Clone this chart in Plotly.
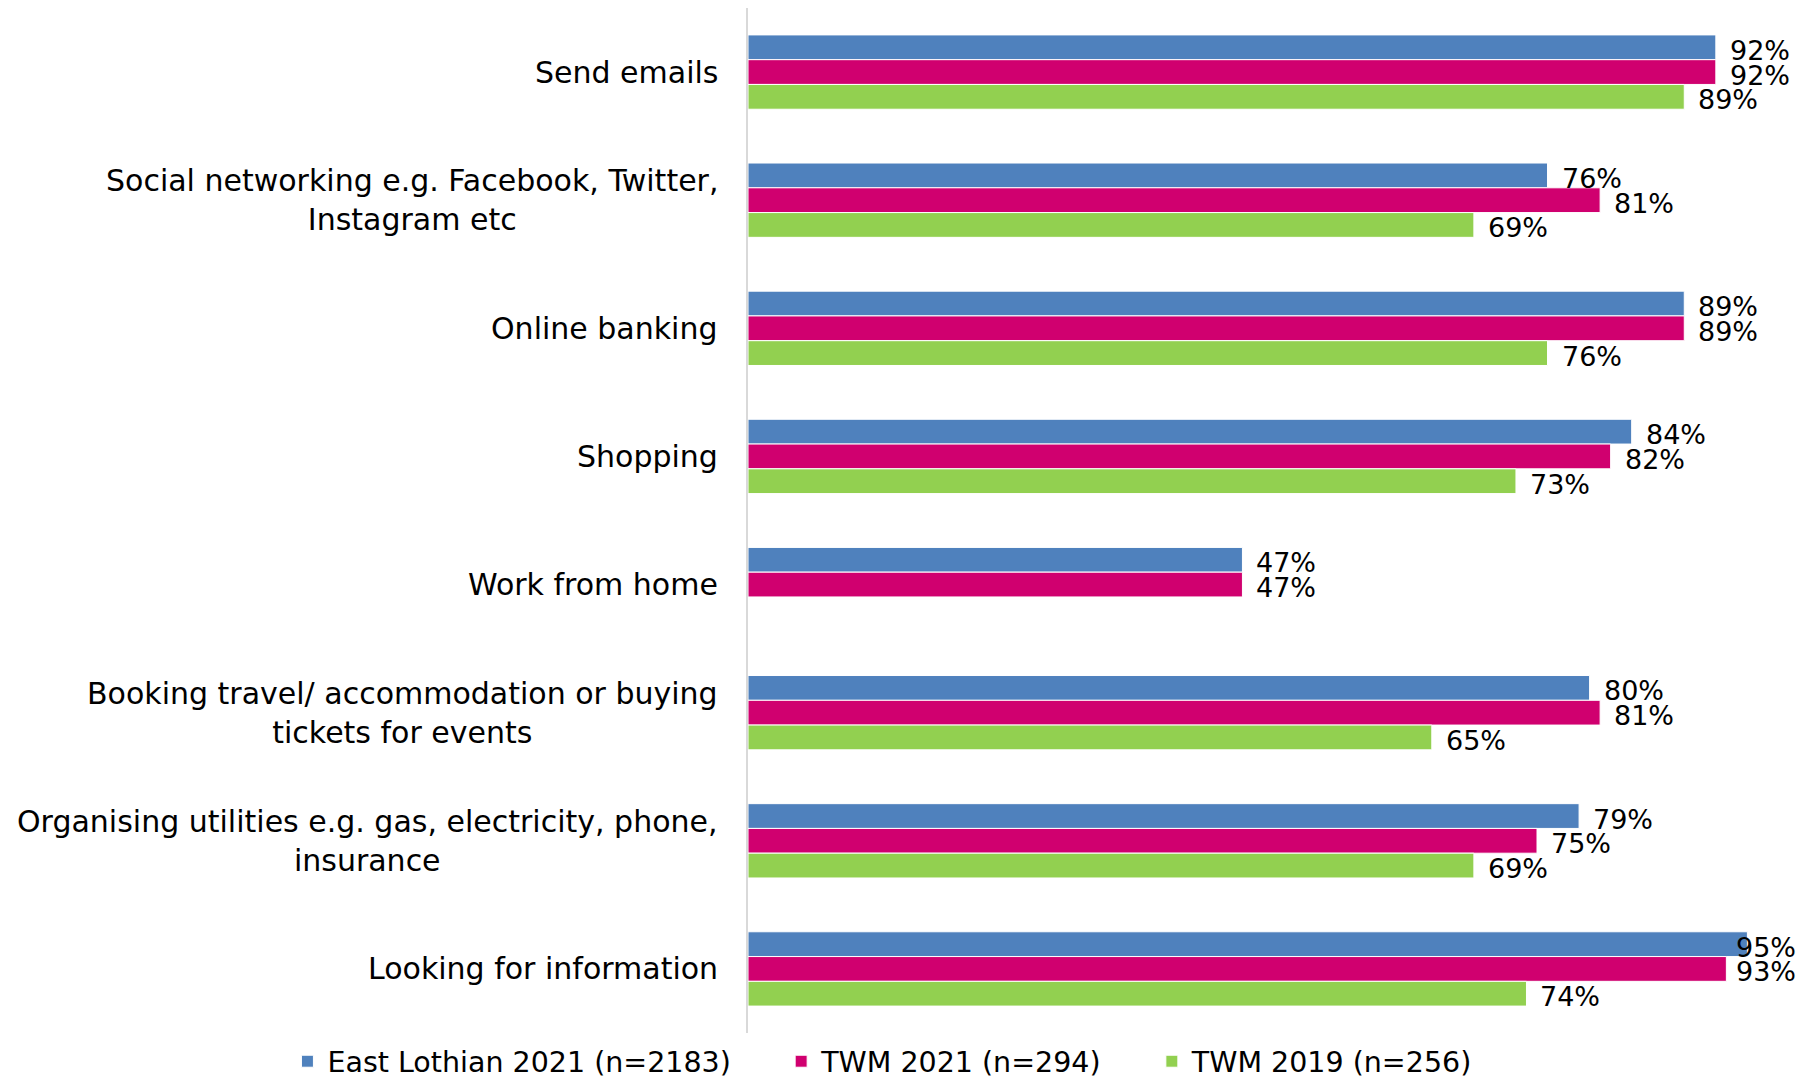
import plotly.graph_objects as go

categories = [
    "Send emails",
    "Social networking e.g. Facebook, Twitter,<br>Instagram etc",
    "Online banking",
    "Shopping",
    "Work from home",
    "Booking travel/ accommodation or buying<br>tickets for events",
    "Organising utilities e.g. gas, electricity, phone,<br>insurance",
    "Looking for information",
]
series_names = ["East Lothian 2021 (n=2183)", "TWM 2021 (n=294)", "TWM 2019 (n=256)"]
east_lothian_2021 = [92, 76, 89, 84, 47, 80, 79, 95]
twm_2021 = [92, 81, 89, 82, 47, 81, 75, 93]
twm_2019 = [89, 69, 76, 73, None, 65, 69, 74]
colors = ["#4F81BD", "#D0006F", "#92D050"]

FONT = "DejaVu Sans"
BARGAP = 0.42
NS = 3
ypos = list(range(len(categories)))

fig = go.Figure()
all_series = [east_lothian_2021, twm_2021, twm_2019]
for j, (name, vals, col) in enumerate(zip(series_names, all_series, colors)):
    label = name + ("\u00a0" * 5 if j < NS - 1 else "")
    fig.add_trace(go.Bar(
        y=ypos, x=vals, name=label, orientation="h",
        marker=dict(color=col, line=dict(color="white", width=1)),
        hoverinfo="x+name",
    ))
    # data labels, placed like Excel's "outside end" (clamped inside chart area)
    width = (1 - BARGAP) / NS
    off = (j - (NS - 1) / 2) * width
    for i, v in enumerate(vals):
        if v is None:
            continue
        clamp = v + 7.2 > 99.7
        fig.add_annotation(
            x=100 if clamp else v, y=i + off, xref="x", yref="y",
            text=f"{v}%", showarrow=False,
            xanchor="right" if clamp else "left",
            xshift=-2 if clamp else 12, yshift=-3,
            font=dict(family=FONT, size=27, color="black"),
        )

for i, c in enumerate(categories):
    fig.add_annotation(x=0, y=i, xref="x", yref="y", text=c, showarrow=False,
                       xanchor="right", yanchor="middle", align="center", xshift=-28,
                       font=dict(family=FONT, size=30, color="black"))

fig.update_layout(
    width=1794, height=1071,
    margin=dict(l=740, r=2, t=0, b=46, autoexpand=False),
    barmode="group", bargap=BARGAP, bargroupgap=0,
    plot_bgcolor="white", paper_bgcolor="white",
    font=dict(family=FONT, size=28, color="black"),
    xaxis=dict(range=[0, 100], visible=False, fixedrange=True),
    yaxis=dict(autorange="reversed", showticklabels=False, showgrid=False, zeroline=False,
               showline=True, linecolor="#D9D9D9", linewidth=2, ticks=""),
    legend=dict(orientation="h", x=-0.4378, xanchor="left",
                y=-0.028, yanchor="middle",
                font=dict(family=FONT, size=28.5, color="black"), itemwidth=30,
                tracegroupgap=0),
    showlegend=True,
)
fig.write_html("out.html")
